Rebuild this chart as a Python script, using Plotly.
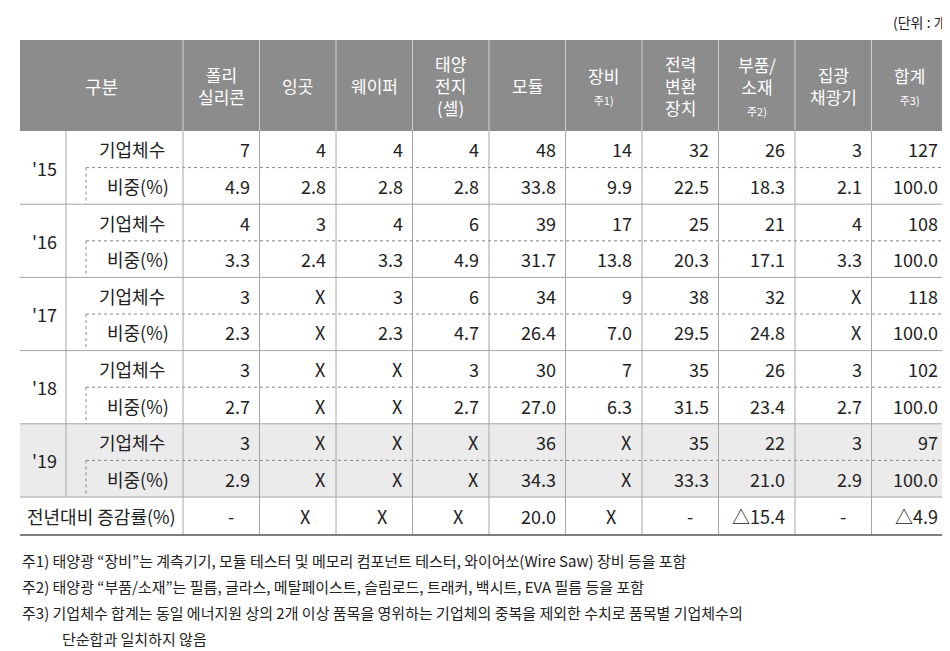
import plotly.graph_objects as go

# 표 데이터
columns = ["폴리<br>실리콘", "잉곳", "웨이퍼", "태양<br>전지<br>(셀)", "모듈",
           "장비<br><span style='font-size:11px'>주1)</span>", "전력<br>변환<br>장치",
           "부품/<br>소재<br><span style='font-size:11px'>주2)</span>", "집광<br>채광기",
           "합계<br><span style='font-size:11px'>주3)</span>"]
years = ["'15", "'16", "'17", "'18", "'19"]
counts = [
    ["7", "4", "4", "4", "48", "14", "32", "26", "3", "127"],
    ["4", "3", "4", "6", "39", "17", "25", "21", "4", "108"],
    ["3", "X", "3", "6", "34", "9", "38", "32", "X", "118"],
    ["3", "X", "X", "3", "30", "7", "35", "26", "3", "102"],
    ["3", "X", "X", "X", "36", "X", "35", "22", "3", "97"],
]
shares = [
    ["4.9", "2.8", "2.8", "2.8", "33.8", "9.9", "22.5", "18.3", "2.1", "100.0"],
    ["3.3", "2.4", "3.3", "4.9", "31.7", "13.8", "20.3", "17.1", "3.3", "100.0"],
    ["2.3", "X", "2.3", "4.7", "26.4", "7.0", "29.5", "24.8", "X", "100.0"],
    ["2.7", "X", "X", "2.7", "27.0", "6.3", "31.5", "23.4", "2.7", "100.0"],
    ["2.9", "X", "X", "X", "34.3", "X", "33.3", "21.0", "2.9", "100.0"],
]
growth = ["-", "X", "X", "X", "20.0", "X", "-", "△15.4", "-", "△4.9"]
notes = [
    "주1) 태양광 “장비”는 계측기기, 모듈 테스터 및 메모리 컴포넌트 테스터, 와이어쏘(Wire Saw) 장비 등을 포함",
    "주2) 태양광 “부품/소재”는 필름, 글라스, 메탈페이스트, 슬림로드, 트래커, 백시트, EVA 필름 등을 포함",
    "주3) 기업체수 합계는 동일 에너지원 상의 2개 이상 품목을 영위하는 기업체의 중복을 제외한 수치로 품목별 기업체수의",
    "단순합과 일치하지 않음",
]

FONT = "Noto Sans CJK KR"
X0, X1 = 12, 940
YEAR_X, SUB_X, COL0 = 58, 78, 175
colw = (X1 - COL0) / len(columns)
HEAD_T, HEAD_B = 32, 123
ROW_H = 36.6
LAST_B = 527
GRID = "#a6a6a6"

fig = go.Figure()
shapes, ann = [], []

def rect(x0, y0, x1, y1, color):
    shapes.append(dict(type="rect", x0=x0, y0=y0, x1=x1, y1=y1, fillcolor=color,
                       line=dict(width=0), layer="below"))

def line(x0, y0, x1, y1, color=GRID, width=1, dash="solid"):
    shapes.append(dict(type="line", x0=x0, y0=y0, x1=x1, y1=y1,
                       line=dict(color=color, width=width, dash=dash)))

def text(x, y, s, size=18, color="#222", anchor="center"):
    ann.append(dict(x=x, y=y, text=s, showarrow=False, xanchor=anchor, yanchor="middle",
                    font=dict(family=FONT, size=size, color=color), align="center"))

# 머리글
rect(X0, HEAD_T, X1, HEAD_B, "#8c8c8c")
text((X0 + COL0) / 2, (HEAD_T + HEAD_B) / 2, "구분", color="white")
for i, c in enumerate(columns):
    cx = COL0 + colw * (i + 0.5)
    text(cx, (HEAD_T + HEAD_B) / 2, c, size=17, color="white")
    line(COL0 + colw * i, HEAD_T, COL0 + colw * i, HEAD_B, "#d0d0d0")

# '19 음영
y19 = HEAD_B + ROW_H * 8
rect(X0, y19, X1, y19 + ROW_H * 2, "#ebebeb")

for g, yr in enumerate(years):
    yt = HEAD_B + ROW_H * 2 * g
    text(YEAR_X - 22, yt + ROW_H, yr)
    text(SUB_X + 46, yt + ROW_H / 2, "기업체수")
    text(SUB_X + 52, yt + ROW_H * 1.5, "비중(%)")
    for i in range(len(columns)):
        xr = COL0 + colw * (i + 1) - 8
        text(xr, yt + ROW_H / 2, counts[g][i], anchor="right")
        text(xr, yt + ROW_H * 1.5, shares[g][i], anchor="right")
    line(SUB_X, yt + ROW_H, X1, yt + ROW_H, "#888", 1, "dot")
    line(SUB_X, yt + ROW_H, SUB_X, yt + ROW_H * 2, "#888", 1, "dot")
    line(X0, yt + ROW_H * 2, X1, yt + ROW_H * 2)
    line(YEAR_X, yt, YEAR_X, yt + ROW_H * 2)

# 증감률
yg = HEAD_B + ROW_H * 10
text((X0 + COL0) / 2, (yg + LAST_B) / 2, "전년대비 증감률(%)")
for i, v in enumerate(growth):
    xr = COL0 + colw * (i + 1)
    if v in ("-", "X"):
        text(xr - colw / 2 + 8 if v == "X" else xr - colw / 2 + 10, (yg + LAST_B) / 2, v)
    else:
        text(xr - 8, (yg + LAST_B) / 2, v, anchor="right")

for i in range(len(columns) + 1):
    line(COL0 + colw * i, HEAD_B, COL0 + colw * i, LAST_B)
line(X0, LAST_B, X1, LAST_B, "#555", 1.5)

text(945, 14, "(단위 : 개)", size=14, anchor="right")
for k, n in enumerate(notes):
    text(12 if k < 3 else 52, 552 + 26 * k, n, size=15, anchor="left")

fig.update_layout(
    width=950, height=651, margin=dict(l=0, r=0, t=0, b=0),
    plot_bgcolor="white", paper_bgcolor="white",
    xaxis=dict(range=[0, 950], visible=False, fixedrange=True),
    yaxis=dict(range=[651, 0], visible=False, fixedrange=True),
    shapes=shapes, annotations=ann, showlegend=False,
)
fig.write_html("out.html")
